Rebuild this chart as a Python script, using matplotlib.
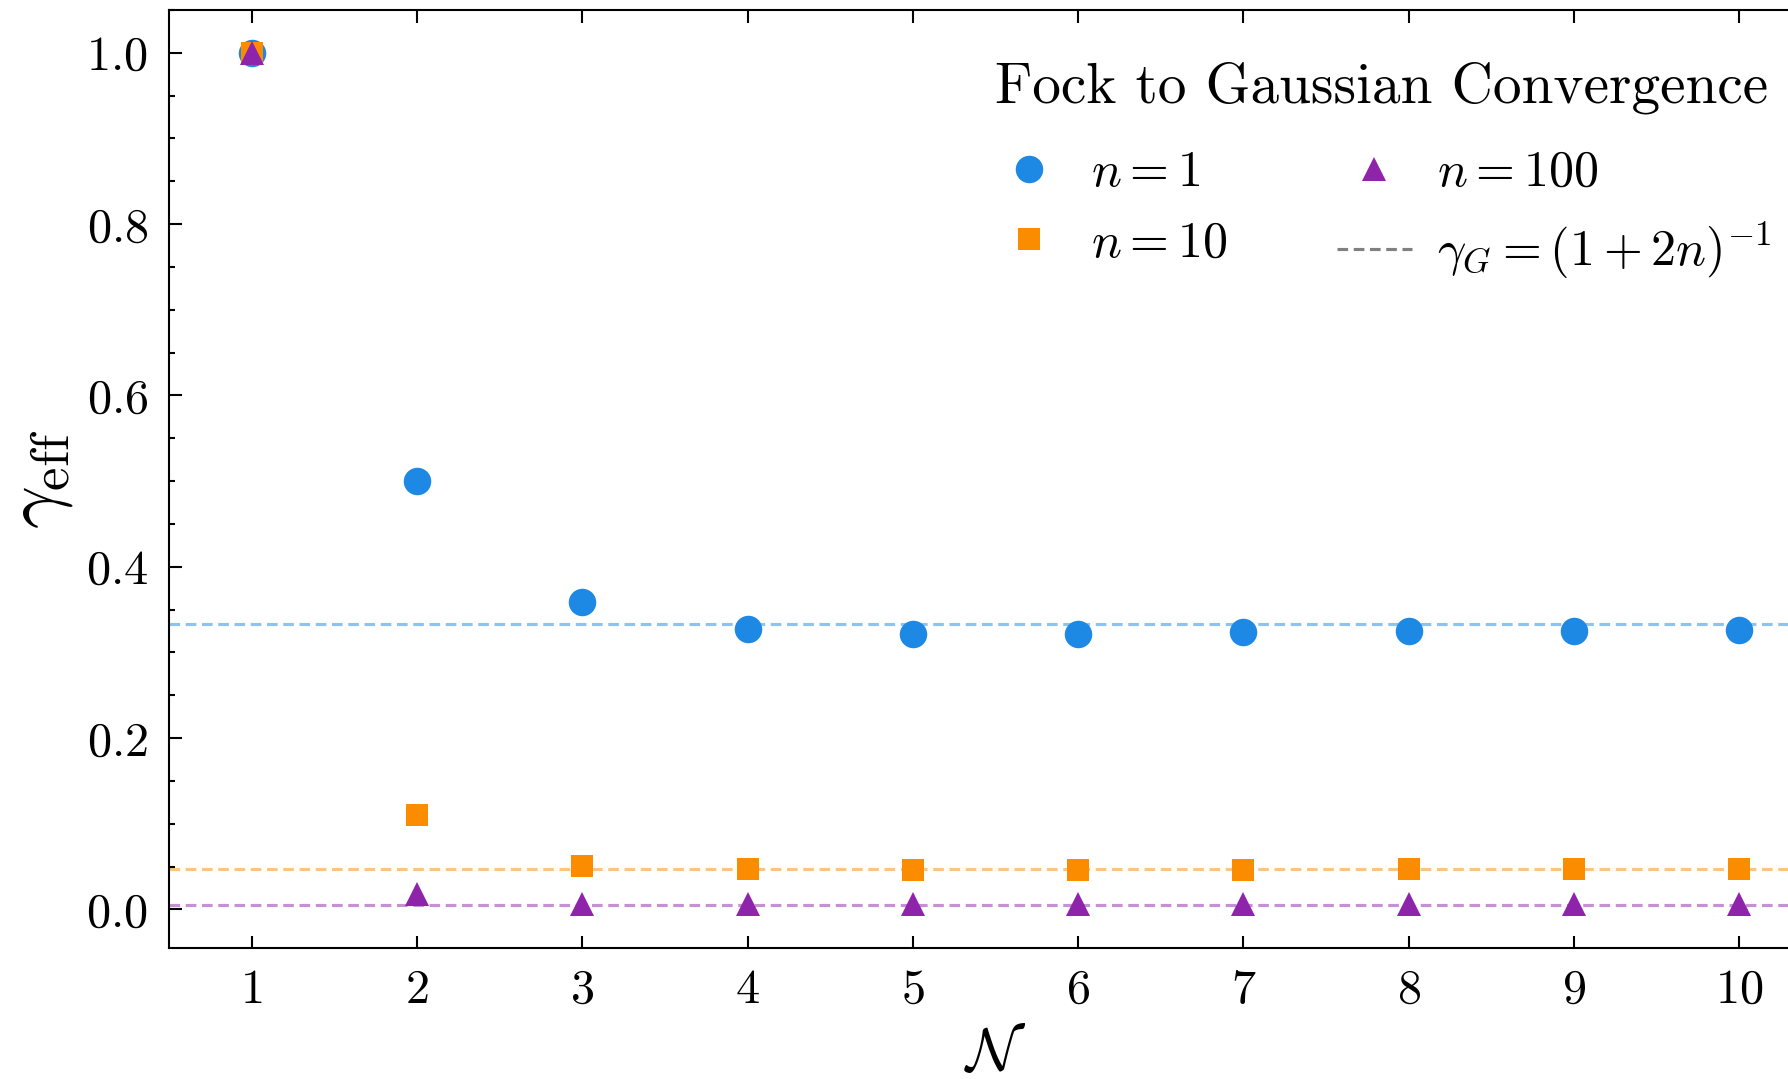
import matplotlib
matplotlib.use("Agg")
import matplotlib.pyplot as plt
from matplotlib.ticker import MultipleLocator
from matplotlib.lines import Line2D

plt.rcParams.update({
    "font.family": "serif",
    "font.serif": ["cmr10"],
    "mathtext.fontset": "cm",
    "axes.formatter.use_mathtext": True,
    "axes.unicode_minus": False,
    "axes.linewidth": 0.5,
})

# ---- data ----
N_values = [1, 2, 3, 4, 5, 6, 7, 8, 9, 10]
gamma_n1 = [1.0, 0.500, 0.359, 0.327, 0.322, 0.322, 0.3235, 0.3245, 0.325, 0.326]
gamma_n10 = [1.0, 0.110, 0.0505, 0.0467, 0.0466, 0.0466, 0.0466, 0.0467, 0.0467, 0.0468]
gamma_n100 = [1.0, 0.0175, 0.006, 0.006, 0.006, 0.006, 0.006, 0.006, 0.006, 0.006]
n_list = [1, 10, 100]
gauss_limits = [1.0 / (1 + 2 * n) for n in n_list]

labels = [r"$n = 1$", r"$n = 10$", r"$n = 100$"]
gauss_label = r"$\gamma_G = (1+2n)^{-1}$"
colors = ["#1E88E5", "#FB8C00", "#8E24AA"]
markers = ["o", "s", "^"]
msizes = [6.6, 5.45, 5.8]
series = [gamma_n1, gamma_n10, gamma_n100]

W, H = 1788, 1079
fig = plt.figure(figsize=(W / 300, H / 300), dpi=300)
left, right, bottom, top = 169 / W, 1822 / W, 131 / H, 1069 / H
ax = fig.add_axes([left, bottom, right - left, top - bottom])

for g, c in zip(gauss_limits, colors):
    ax.axhline(g, color=c, alpha=0.5, lw=0.75, ls=(0, (3.4, 1.8)), zorder=1)

for y, c, m, ms, lab in zip(series, colors, markers, msizes, labels):
    ax.plot(N_values, y, ls="none", marker=m, ms=ms, mew=0, color=c,
            label=lab, zorder=3)

ax.set_xlim(0.5, 10.5)
ax.set_ylim(-0.045, 1.05)
ax.set_xticks(N_values)
ax.yaxis.set_major_locator(MultipleLocator(0.2))
ax.yaxis.set_minor_locator(MultipleLocator(0.05))
ax.tick_params(which="both", direction="in", top=True, right=True, width=0.5,
               labelsize=11.6, pad=5)
ax.tick_params(which="major", length=3)
ax.tick_params(which="minor", length=1.5)
ax.tick_params(axis="x", which="minor", bottom=False, top=False)

ax.set_xlabel(r"$\mathcal{N}$", fontsize=14.5, labelpad=3.6)
ax.set_ylabel(r"$\gamma_{\rm eff}$", fontsize=18, labelpad=2.6)

handles, labs = ax.get_legend_handles_labels()
gh = Line2D([], [], color="gray", lw=0.75, ls=(0, (3.4, 1.8)))
order_h = [handles[0], handles[1], handles[2], gh]
order_l = [labs[0], labs[1], labs[2], gauss_label]
leg = ax.legend(order_h, order_l, loc="upper right", ncol=2, frameon=False,
                fontsize=12, title="Fock to Gaussian Convergence", title_fontsize=13.75,
                handlelength=1.5, handletextpad=0.5, columnspacing=2.18,
                borderaxespad=0.5, bbox_to_anchor=(1.0 - 6 / 1653, 1.0 - 6 / 938))
leg._legend_box.sep = 8.8

fig.savefig("out.png", dpi=300)
